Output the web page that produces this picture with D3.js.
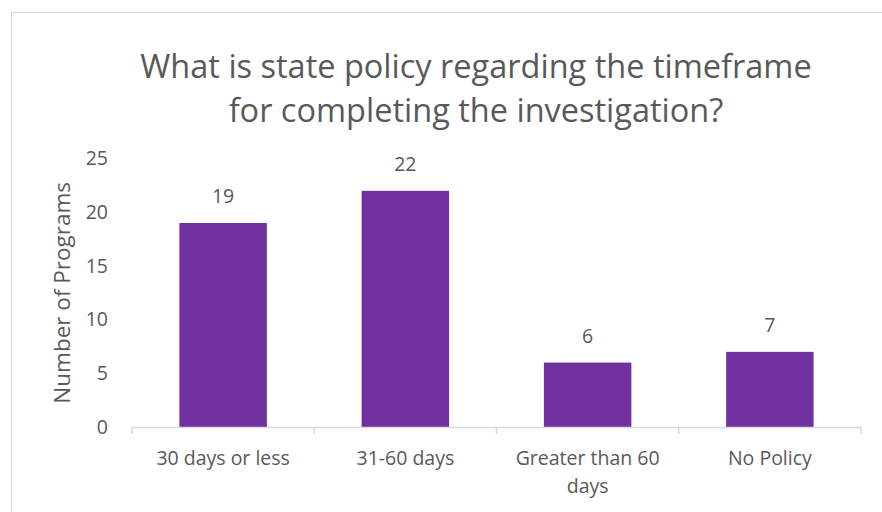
<!DOCTYPE html>
<html>
<head>
<meta charset="utf-8">
<script src="https://cdn.jsdelivr.net/npm/d3@7"></script>
<style>
  html, body { margin: 0; padding: 0; background: #fff; }
  svg { display: block; font-family: "Open Sans", sans-serif; }
</style>
</head>
<body>
<svg id="chart" width="882" height="512"></svg>
<script>
// Data
const categories = ["30 days or less", "31-60 days", "Greater than 60 days", "No Policy"];
const values = [19, 22, 6, 7];
const yTicks = [0, 5, 10, 15, 20, 25];
const titleLines = ["What is state policy regarding the timeframe", "for completing the investigation?"];
const yTitle = "Number of Programs";

const svg = d3.select("#chart");
const textColor = "#595959";
const gridColor = "#d9d9d9";
const barColor = "#7030A0";
const labelSize = "19.5px";

// Chart frame
svg.append("rect")
  .attr("x", 11.5).attr("y", 12.5)
  .attr("width", 900).attr("height", 520)
  .attr("fill", "#fff").attr("stroke", gridColor).attr("stroke-width", 1);

const plot = { left: 132, right: 861, top: 158.6, bottom: 427 };

const x = d3.scaleBand()
  .domain(categories)
  .range([plot.left, plot.right])
  .paddingInner(0.52)
  .paddingOuter(0.26);

const y = d3.scaleLinear()
  .domain([0, 25])
  .range([plot.bottom, plot.top]);

// Title
svg.append("text")
  .attr("x", 476).attr("y", 78)
  .attr("text-anchor", "middle")
  .attr("fill", textColor)
  .style("font-size", "32.5px")
  .selectAll("tspan")
  .data(titleLines)
  .join("tspan")
  .attr("x", 476)
  .attr("dy", (d, i) => i === 0 ? 0 : 44)
  .text(d => d);

// Bars
svg.append("g")
  .selectAll("rect")
  .data(values)
  .join("rect")
  .attr("x", (d, i) => x(categories[i]))
  .attr("width", x.bandwidth())
  .attr("y", d => y(d))
  .attr("height", d => y(0) - y(d))
  .attr("fill", barColor);

// Value labels
svg.append("g")
  .selectAll("text")
  .data(values)
  .join("text")
  .attr("x", (d, i) => x(categories[i]) + x.bandwidth() / 2)
  .attr("y", d => y(d) - 20)
  .attr("text-anchor", "middle")
  .attr("fill", textColor)
  .style("font-size", labelSize)
  .text(d => d);

// Y axis (labels only)
const yAxis = svg.append("g")
  .attr("transform", `translate(${plot.left},0)`)
  .call(d3.axisLeft(y).tickValues(yTicks).tickSize(0).tickPadding(24));
yAxis.select(".domain").remove();
yAxis.selectAll("text")
  .attr("fill", textColor)
  .style("font-size", labelSize)
  .style("font-family", "'Open Sans', sans-serif");

// X axis with category boundary ticks
const xAxis = svg.append("g")
  .attr("transform", `translate(0,${plot.bottom})`);
xAxis.append("line")
  .attr("x1", plot.left).attr("x2", plot.right)
  .attr("y1", 0.5).attr("y2", 0.5)
  .attr("stroke", gridColor).attr("stroke-width", 1.5);
const bounds = d3.range(categories.length + 1).map(i => plot.left + i * (plot.right - plot.left) / categories.length);
xAxis.selectAll("line.tick")
  .data(bounds)
  .join("line")
  .attr("class", "tick")
  .attr("x1", d => d).attr("x2", d => d)
  .attr("y1", 0).attr("y2", 7)
  .attr("stroke", gridColor).attr("stroke-width", 1.5);

// Category labels (wrapped)
const catLines = {
  "Greater than 60 days": ["Greater than 60", "days"]
};
xAxis.selectAll("text.cat")
  .data(categories)
  .join("text")
  .attr("class", "cat")
  .attr("text-anchor", "middle")
  .attr("fill", textColor)
  .style("font-size", labelSize)
  .attr("y", 38)
  .each(function(d) {
    const cx = x(d) + x.bandwidth() / 2;
    const lines = catLines[d] || [d];
    d3.select(this).selectAll("tspan")
      .data(lines)
      .join("tspan")
      .attr("x", cx)
      .attr("dy", (l, i) => i === 0 ? 0 : 28)
      .text(l => l);
  });

// Y axis title
svg.append("text")
  .attr("transform", `translate(70,${(plot.top + plot.bottom) / 2}) rotate(-90)`)
  .attr("text-anchor", "middle")
  .attr("fill", textColor)
  .style("font-size", "22.5px")
  .text(yTitle);
</script>
</body>
</html>
